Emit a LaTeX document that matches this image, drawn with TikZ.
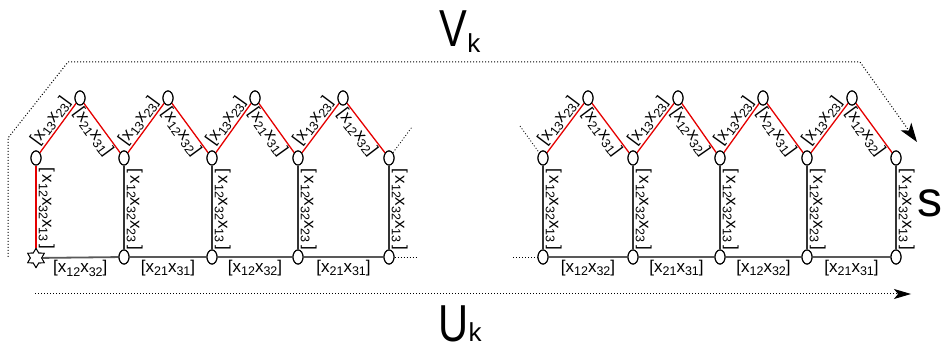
\documentclass[tikz,border=0pt]{standalone}
\usepackage{fontspec}
\setmainfont{Liberation Sans}
\usetikzlibrary{shapes.geometric,arrows.meta,calc}
\newcommand\sbs[1]{\raisebox{-3.5pt}{\fontsize{12.5}{12.5}\selectfont #1}}
\newcommand\pr[2]{[x\sbs{#1}x\sbs{#2}]}
\newcommand\trp[3]{[\,x\sbs{#1}x\sbs{#2}x\sbs{#3}\,]}
\begin{document}
\begin{tikzpicture}[x=1pt,y=-1pt,
  vtx/.style={ellipse,draw,fill=white,line width=1.1pt,minimum width=10pt,minimum height=14pt,inner sep=0pt},
  startvtx/.style={star,star points=6,star point ratio=1.7,draw,fill=white,line width=0.9pt,minimum size=19pt,inner sep=0pt},
  redline/.style={draw=red!90!black,line width=1.3pt},
  vline/.style={draw=black!80,line width=1.3pt},
  hline/.style={draw=black!65,line width=1.8pt},
  dotline/.style={line width=1pt,dash pattern=on 1pt off 2pt},
  lbl/.style={font=\fontsize{17}{17}\selectfont,inner sep=1pt},
  asclbl/.style={lbl,pos=0.52,sloped,above=0.5pt},
  desclbl/.style={lbl,pos=0.47,sloped,below=0pt},
  vertlbl/.style={lbl,pos=0.52,rotate=-90,anchor=south,inner sep=2pt},
  botlbl/.style={lbl,midway,below=1pt},
  bigtxt/.style={inner sep=0pt}
]
\useasboundingbox (0,0) rectangle (944,352);
% ---- left block nodes
\node[startvtx] (b1) at (36,258) {};
\foreach \i/\x in {2/124,3/212,4/298,5/389}{\node[vtx] (b\i) at (\x,257) {};}
\foreach \i/\x in {1/36,2/124,3/212,4/298,5/389}{\node[vtx] (t\i) at (\x,158) {};}
\foreach \i/\x in {1/80,2/168,3/255,4/343}{\node[vtx] (p\i) at (\x,98) {};}
% ---- right block nodes
\foreach \i/\x in {6/543,7/633,8/720,9/807,10/896}{\node[vtx] (b\i) at (\x,257) {};}
\foreach \i/\x in {6/543,7/633,8/720,9/807,10/896}{\node[vtx] (t\i) at (\x,158) {};}
\foreach \i/\x in {6/588,7/678,8/763,9/852}{\node[vtx] (p\i) at (\x,98) {};}
% ---- zigzags
\path[redline] (t1) -- node[asclbl]{\pr{13}{23}} (p1);
\path[redline] (p1) -- node[desclbl]{\pr{21}{31}} (t2);
\path[redline] (t2) -- node[asclbl]{\pr{13}{23}} (p2);
\path[redline] (p2) -- node[desclbl]{\pr{12}{32}} (t3);
\path[redline] (t3) -- node[asclbl]{\pr{13}{23}} (p3);
\path[redline] (p3) -- node[desclbl]{\pr{21}{31}} (t4);
\path[redline] (t4) -- node[asclbl]{\pr{13}{23}} (p4);
\path[redline] (p4) -- node[desclbl]{\pr{12}{32}} (t5);
\path[redline] (t6) -- node[asclbl]{\pr{13}{23}} (p6);
\path[redline] (p6) -- node[desclbl]{\pr{21}{31}} (t7);
\path[redline] (t7) -- node[asclbl]{\pr{13}{23}} (p7);
\path[redline] (p7) -- node[desclbl]{\pr{12}{32}} (t8);
\path[redline] (t8) -- node[asclbl]{\pr{13}{23}} (p8);
\path[redline] (p8) -- node[desclbl]{\pr{21}{31}} (t9);
\path[redline] (t9) -- node[asclbl]{\pr{13}{23}} (p9);
\path[redline] (p9) -- node[desclbl]{\pr{12}{32}} (t10);
% ---- verticals
\path[redline] (t1) -- node[vertlbl]{\trp{12}{32}{13}} (b1);
\path[vline] (t2) -- node[vertlbl]{\trp{12}{32}{23}} (b2);
\path[vline] (t3) -- node[vertlbl]{\trp{12}{32}{13}} (b3);
\path[vline] (t4) -- node[vertlbl]{\trp{12}{32}{23}} (b4);
\path[vline] (t5) -- node[vertlbl]{\trp{12}{32}{13}} (b5);
\path[vline] (t6) -- node[vertlbl]{\trp{12}{32}{13}} (b6);
\path[vline] (t7) -- node[vertlbl]{\trp{12}{32}{23}} (b7);
\path[vline] (t8) -- node[vertlbl]{\trp{12}{32}{13}} (b8);
\path[vline] (t9) -- node[vertlbl]{\trp{12}{32}{23}} (b9);
\path[vline] (t10) -- node[vertlbl]{\trp{12}{32}{13}} (b10);
% ---- horizontals
\path[hline] (b1) -- node[botlbl,text=black]{\pr{12}{32}} (b2);
\path[hline] (b2) -- node[botlbl,text=black]{\pr{21}{31}} (b3);
\path[hline] (b3) -- node[botlbl,text=black]{\pr{12}{32}} (b4);
\path[hline] (b4) -- node[botlbl,text=black]{\pr{21}{31}} (b5);
\path[hline] (b6) -- node[botlbl,text=black]{\pr{12}{32}} (b7);
\path[hline] (b7) -- node[botlbl,text=black]{\pr{21}{31}} (b8);
\path[hline] (b8) -- node[botlbl,text=black]{\pr{12}{32}} (b9);
\path[hline] (b9) -- node[botlbl,text=black]{\pr{21}{31}} (b10);
% ---- redraw nodes on top
\node[startvtx] at (b1) {};
\foreach \i in {2,...,10}{\node[vtx] at (b\i) {};}
\foreach \i in {1,...,10}{\node[vtx] at (t\i) {};}
\foreach \i in {1,...,4,6,7,8,9}{\node[vtx] at (p\i) {};}
% ---- dotted stubs
\coordinate (s1) at (412,127);
\coordinate (s2) at (418,257);
\coordinate (s3) at (520,126);
\coordinate (s4) at (513,257);
\draw[dotline,line width=0.8pt] (t5) -- (s1);
\draw[dotline,line width=0.8pt] (b5) -- (s2);
\draw[dotline,line width=0.8pt] (s3) -- (t6);
\draw[dotline,line width=0.8pt] (s4) -- (b6);
% ---- V_k path
\coordinate (v0) at (8,257);
\coordinate (v1) at (8,138);
\coordinate (v2) at (68,62);
\coordinate (v3) at (860,62);
\coordinate (v4) at (917,142);
\draw[dotline,-{Stealth[length=19pt,width=13pt,inset=5pt]}] (v0) -- (v1) -- (v2) -- (v3) -- (v4);
% ---- U_k path
\coordinate (u0) at (35,294);
\coordinate (u1) at (911,294);
\draw[dotline,-{Stealth[length=17pt,width=10pt,inset=4pt]}] (u0) -- (u1);
% ---- big labels
\node[bigtxt,anchor=base] (vk) at (460,47) {\fontsize{52}{52}\selectfont\scalebox{0.8}[1]{V}\raisebox{-6pt}{\fontsize{26}{26}\selectfont k}};
\node[bigtxt,anchor=base] (uk) at (460,341) {\fontsize{52}{52}\selectfont\scalebox{0.8}[1]{U}\raisebox{-1pt}{\fontsize{26}{26}\selectfont k}};
\node[bigtxt,anchor=base] (sn) at (930,217) {\fontsize{50}{50}\selectfont s};
\end{tikzpicture}
\end{document}
